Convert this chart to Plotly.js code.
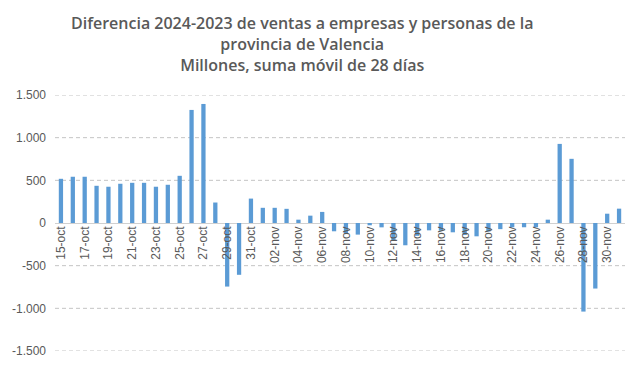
<!DOCTYPE html>
<html>
<head>
<meta charset="utf-8">
<script src="https://cdn.plot.ly/plotly-3.0.1.min.js"></script>
<style>html,body{margin:0;padding:0;background:#fff;}#chart{width:639px;height:366px;}</style>
</head>
<body>
<div id="chart"></div>
<script>
const categories = [
  "15-oct","16-oct","17-oct","18-oct","19-oct","20-oct","21-oct","22-oct","23-oct","24-oct",
  "25-oct","26-oct","27-oct","28-oct","29-oct","30-oct","31-oct",
  "01-nov","02-nov","03-nov","04-nov","05-nov","06-nov","07-nov","08-nov","09-nov","10-nov",
  "11-nov","12-nov","13-nov","14-nov","15-nov","16-nov","17-nov","18-nov","19-nov","20-nov",
  "21-nov","22-nov","23-nov","24-nov","25-nov","26-nov","27-nov","28-nov","29-nov","30-nov",
  "01-dic"
];
const values = [
  518, 542, 542, 436, 425, 460, 471, 471, 425, 448,
  553, 1325, 1395, 240, -745, -607, 286,
  178, 178, 166, 39, 86, 130, -97, -120, -136, -27,
  -51, -200, -261, -150, -86, -90, -109, -140, -156, -100,
  -72, -50, -50, -50, 39, 927, 752, -1038, -768, 109,
  168
];
const xTickLabels = categories.filter((c, i) => i % 2 === 0 && i < 47);
const yTickValues = [-1500, -1000, -500, 0, 500, 1000, 1500];
const yTickLabels = ["-1.500", "-1.000", "-500", "0", "500", "1.000", "1.500"];
const titleLines = [
  "Diferencia 2024-2023 de ventas a empresas y personas de la",
  "provincia de Valencia",
  "Millones, suma móvil de 28 días"
];

const trace = {
  type: "bar",
  x: categories,
  y: values,
  marker: {color: "#5B9BD5"},
  hoverinfo: "x+y"
};

const gridShapes = yTickValues.filter(v => v !== 0).map(v => ({
  type: "line",
  xref: "paper",
  x0: 0,
  x1: 1,
  yref: "y",
  y0: v,
  y1: v,
  layer: "below",
  line: {color: "#c4c4c4", width: 1, dash: "4px,3px"}
}));

const layout = {
  width: 639,
  height: 366,
  margin: {l: 55, r: 14, t: 95, b: 15},
  paper_bgcolor: "#ffffff",
  plot_bgcolor: "#ffffff",
  showlegend: false,
  bargap: 0.64,
  font: {family: "Liberation Sans, Arial, sans-serif", color: "#595959", size: 12},
  title: {
    text: titleLines.join("<br>"),
    x: 0.473,
    xanchor: "center",
    xref: "container",
    y: 0.92,
    yanchor: "middle",
    font: {family: "Open Sans, sans-serif", size: 16, weight: 600, color: "#595959"}
  },
  shapes: gridShapes,
  xaxis: {
    type: "category",
    anchor: "free",
    position: 0.5,
    tickmode: "array",
    tickvals: xTickLabels,
    ticktext: xTickLabels,
    tickangle: -90,
    ticks: "",
    showgrid: false,
    showline: false,
    zeroline: false,
    tickfont: {size: 12, color: "#595959"},
    range: [-0.5, categories.length - 0.5]
  },
  yaxis: {
    range: [-1500, 1500],
    tickmode: "array",
    tickvals: yTickValues,
    ticktext: yTickLabels,
    showgrid: false,
    zeroline: true,
    zerolinecolor: "#d0d0d0",
    zerolinewidth: 1,
    showline: false,
    ticks: "",
    ticklabelstandoff: 8,
    tickfont: {size: 12, color: "#595959"}
  }
};

Plotly.newPlot("chart", [trace], layout, {displayModeBar: false, staticPlot: true});
</script>
</body>
</html>
